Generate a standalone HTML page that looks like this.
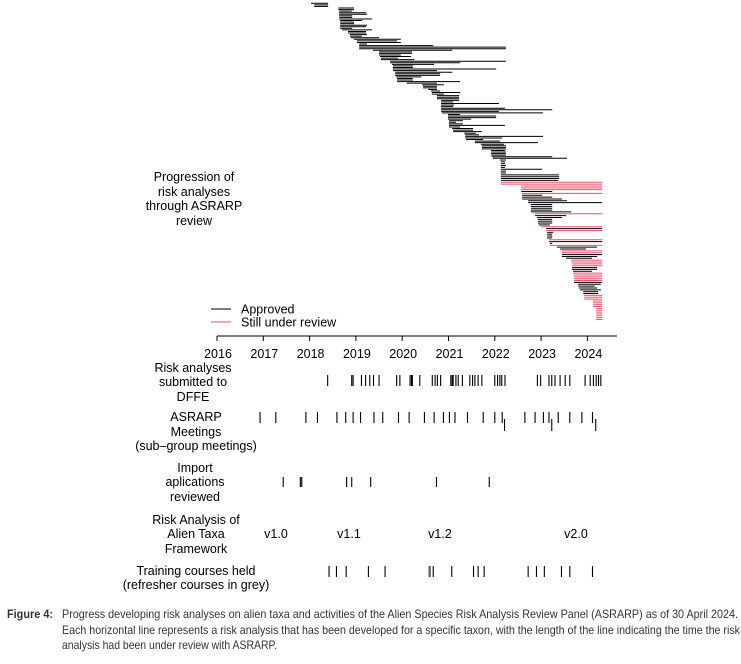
<!DOCTYPE html>
<html><head><meta charset="utf-8"><style>
html,body{margin:0;padding:0;background:#fff;}
svg{display:block;font-family:"Liberation Sans",Arial,sans-serif;}
</style></head><body>
<svg id="chart" width="741" height="664" viewBox="0 0 741 664" xmlns="http://www.w3.org/2000/svg">
<g id="rows"></g>
<g id="axis"></g>
<g id="events"></g>
<g font-size="12.5" fill="#000" text-anchor="middle">
<text x="194" y="181">Progression of</text>
<text x="194" y="196">risk analyses</text>
<text x="194" y="210">through ASRARP</text>
<text x="194" y="225">review</text>
<text x="193" y="372">Risk analyses</text>
<text x="193" y="386">submitted to</text>
<text x="193" y="401">DFFE</text>
<text x="196" y="421">ASRARP</text>
<text x="196" y="436">Meetings</text>
<text x="196" y="450">(sub–group meetings)</text>
<text x="195" y="472">Import</text>
<text x="195" y="486">aplications</text>
<text x="195" y="501">reviewed</text>
<text x="196" y="524">Risk Analysis of</text>
<text x="196" y="538">Alien Taxa</text>
<text x="196" y="553">Framework</text>
<text x="196" y="575">Training courses held</text>
<text x="196" y="589">(refresher courses in grey)</text>
<text x="276" y="538">v1.0</text>
<text x="349" y="538">v1.1</text>
<text x="440" y="538">v1.2</text>
<text x="576" y="538">v2.0</text>
</g>
<g font-size="12.5">
<line x1="211" y1="309" x2="231" y2="309" stroke="#000" stroke-width="1"/>
<text x="241" y="313.5">Approved</text>
<line x1="211" y1="322" x2="231" y2="322" stroke="#ef4f6a" stroke-width="1"/>
<text x="241" y="326.5">Still under review</text>
</g>
<g font-size="12" fill="#333">
<text x="7" y="618" font-weight="bold" textLength="46" lengthAdjust="spacingAndGlyphs">Figure 4:</text>
<text x="62" y="618" textLength="676" lengthAdjust="spacingAndGlyphs">Progress developing risk analyses on alien taxa and activities of the Alien Species Risk Analysis Review Panel (ASRARP) as of 30 April 2024.</text>
<text x="62" y="634" textLength="678" lengthAdjust="spacingAndGlyphs">Each horizontal line represents a risk analysis that has been developed for a specific taxon, with the length of the line indicating the time the risk</text>
<text x="62" y="649" textLength="215" lengthAdjust="spacingAndGlyphs">analysis had been under review with ASRARP.</text>
</g>
</svg>
<script>
const starts=[2018.03,2018.10,2018.10,2018.62,2018.62,2018.64,2018.64,2018.64,2018.64,2018.64,2018.64,2018.66,2018.66,2018.66,2018.66,2018.66,2018.66,2018.70,2018.83,2018.83,2018.87,2018.87,2018.89,2018.96,2019.02,2019.02,2019.07,2019.07,2019.07,2019.07,2019.37,2019.50,2019.50,2019.50,2019.52,2019.54,2019.54,2019.74,2019.74,2019.78,2019.80,2019.80,2019.80,2019.80,2019.85,2019.85,2019.85,2019.87,2019.89,2019.89,2019.89,2020.10,2020.43,2020.45,2020.45,2020.56,2020.62,2020.64,2020.64,2020.75,2020.75,2020.75,2020.84,2020.84,2020.84,2020.84,2020.84,2020.84,2020.84,2020.84,2020.86,2020.99,2020.99,2020.99,2020.99,2021.01,2021.01,2021.01,2021.01,2021.01,2021.08,2021.10,2021.10,2021.34,2021.36,2021.36,2021.36,2021.38,2021.57,2021.57,2021.70,2021.72,2021.72,2021.72,2021.92,2021.92,2021.92,2021.92,2021.94,2021.96,2022.11,2022.13,2022.13,2022.13,2022.13,2022.13,2022.13,2022.13,2022.13,2022.13,2022.13,2022.13,2022.13,2022.13,2022.57,2022.57,2022.57,2022.57,2022.59,2022.59,2022.59,2022.59,2022.72,2022.72,2022.78,2022.78,2022.78,2022.78,2022.78,2022.87,2022.87,2022.91,2022.93,2022.93,2022.93,2022.95,2023.00,2023.11,2023.11,2023.13,2023.13,2023.13,2023.13,2023.17,2023.17,2023.19,2023.19,2023.34,2023.41,2023.45,2023.45,2023.45,2023.45,2023.54,2023.65,2023.65,2023.67,2023.67,2023.67,2023.67,2023.69,2023.69,2023.71,2023.71,2023.71,2023.71,2023.71,2023.80,2023.80,2023.82,2023.84,2023.91,2023.91,2023.93,2023.93,2023.93,2024.12,2024.12,2024.12,2024.12,2024.19,2024.19,2024.19,2024.19,2024.19,2024.19,2024.19];
const ends=[2018.40,2018.40,2018.40,2018.96,2018.96,2018.91,2019.22,2019.24,2018.92,2018.92,2019.35,2019.13,2018.96,2018.96,2019.24,2019.22,2018.92,2019.35,2019.22,2019.22,2019.24,2019.13,2019.50,2019.97,2019.89,2019.97,2019.24,2020.67,2022.24,2022.24,2021.08,2020.21,2020.21,2019.97,2020.19,2019.91,2020.26,2022.24,2021.25,2020.69,2020.23,2020.23,2022.03,2020.75,2021.08,2020.82,2020.82,2020.41,2020.23,2020.23,2021.25,2020.75,2020.90,2020.75,2020.75,2020.75,2020.82,2021.25,2020.90,2021.23,2021.23,2021.23,2021.23,2021.10,2022.09,2021.12,2021.10,2022.22,2023.24,2022.09,2023.04,2021.25,2022.03,2022.03,2021.49,2021.31,2021.16,2021.31,2022.22,2021.25,2021.53,2021.53,2021.72,2021.59,2021.66,2023.04,2022.16,2021.75,2022.11,2022.93,2022.20,2022.24,2022.24,2022.24,2022.22,2022.24,2022.24,2022.24,2023.24,2023.56,2022.24,2022.22,2022.22,2022.24,2022.22,2023.02,2022.24,2022.24,2023.39,2023.39,2023.39,2023.37,2024.32,2024.32,2024.32,2024.32,2024.32,2023.24,2024.32,2023.02,2023.24,2023.45,2023.56,2024.32,2023.24,2023.24,2023.24,2023.24,2023.65,2024.32,2023.54,2023.45,2023.24,2023.24,2023.24,2023.19,2024.32,2024.32,2024.32,2023.26,2023.24,2023.24,2023.24,2024.32,2024.32,2023.24,2024.32,2024.21,2023.97,2024.32,2024.32,2024.32,2024.21,2024.10,2024.32,2024.32,2024.32,2024.32,2024.21,2024.21,2024.10,2024.32,2024.32,2024.32,2024.32,2024.32,2024.32,2024.29,2024.16,2024.21,2024.29,2024.23,2024.23,2024.32,2024.32,2024.32,2024.32,2024.32,2024.32,2024.32,2024.32,2024.32,2024.32,2024.32,2024.32,2024.32,2024.32];
const underReview=[0,0,0,0,0,0,0,0,0,0,0,0,0,0,0,0,0,0,0,0,0,0,0,0,0,0,0,0,0,0,0,0,0,0,0,0,0,0,0,0,0,0,0,0,0,0,0,0,0,0,0,0,0,0,0,0,0,0,0,0,0,0,0,0,0,0,0,0,0,0,0,0,0,0,0,0,0,0,0,0,0,0,0,0,0,0,0,0,0,0,0,0,0,0,0,0,0,0,0,0,0,0,0,0,0,0,0,0,0,0,0,0,1,1,1,1,1,0,1,0,0,0,0,0,0,0,0,0,0,1,0,0,0,0,0,0,1,0,1,0,0,0,0,1,0,0,1,0,0,1,1,0,0,0,1,1,1,1,0,0,0,1,1,1,1,1,0,0,0,0,0,0,0,1,1,1,1,1,1,1,1,1,1,1,1,1,1];
const submitted=[2018.39,2018.91,2018.94,2019.12,2019.21,2019.30,2019.38,2019.50,2019.88,2019.95,2020.17,2020.20,2020.22,2020.38,2020.65,2020.71,2020.76,2020.83,2021.05,2021.08,2021.10,2021.16,2021.21,2021.30,2021.46,2021.52,2021.57,2021.64,2021.72,2022.00,2022.06,2022.11,2022.15,2022.22,2022.92,2022.99,2023.17,2023.23,2023.30,2023.41,2023.52,2023.62,2023.95,2024.06,2024.13,2024.19,2024.24,2024.29];
const meetings=[2016.93,2017.27,2017.92,2018.17,2018.59,2018.78,2018.94,2019.10,2019.39,2019.58,2019.92,2020.15,2020.48,2020.69,2020.89,2021.02,2021.14,2021.41,2021.75,2022.00,2022.16,2022.65,2022.87,2023.05,2023.17,2023.37,2023.62,2023.88,2024.11];
const subgroupMeetings=[2022.21,2023.23,2024.18];
const imports=[2017.43,2017.80,2017.83,2018.80,2018.91,2019.32,2020.74,2021.88];
const training=[2018.42,2018.58,2018.79,2019.27,2019.63,2020.60,2020.67,2021.07,2021.54,2021.64,2021.77,2022.72,2022.90,2023.07,2023.44,2023.62,2024.11];
const refresher=[2020.57];
const yearTicks=[2016,2017,2018,2019,2020,2021,2022,2023,2024];

const NS="http://www.w3.org/2000/svg";
function xs(y){return 217+(y-2016)*46.3;}
function rowY(i){return i<100 ? 3.3+i*(158.3-3.3)/99 : 160+(i-100)*(319.5-160)/(starts.length-101);}
function ln(parent,x1,y1,x2,y2,color,w){const l=document.createElementNS(NS,'line');l.setAttribute('x1',x1);l.setAttribute('y1',y1);l.setAttribute('x2',x2);l.setAttribute('y2',y2);l.setAttribute('stroke',color);l.setAttribute('stroke-width',w);parent.appendChild(l);return l;}
const rows=document.getElementById('rows');
for(let i=0;i<starts.length;i++){
  const l=ln(rows,xs(starts[i]),rowY(i),xs(ends[i]),rowY(i),underReview[i]?'#ef4f6a':'#000',1);
  
  
}
const ax=document.getElementById('axis');
const axl=ln(ax,xs(2016),336,617,336,'#000',1);


yearTicks.forEach(y=>{
  const t=ln(ax,xs(y),336,xs(y),341,'#000',1);
  
  
  const tx=document.createElementNS(NS,'text');
  tx.setAttribute('x',xs(y)+1);tx.setAttribute('y',358);tx.setAttribute('text-anchor','middle');tx.setAttribute('font-size','12.5');
  tx.textContent=y;
  
  
  ax.appendChild(tx);
});
const ev=document.getElementById('events');
function ticks(arr,y1,y2,color,name){arr.forEach(v=>{const t=ln(ev,xs(v),y1,xs(v),y2,color,1.1);
  
  });}
ticks(submitted,375,386,'#000','submission-tick');
ticks(meetings,412,423,'#000','meeting-tick');
ticks(subgroupMeetings,419,431,'#000','subgroup-meeting-tick');
ticks(imports,477,487,'#000','import-review-tick');
ticks(training,566,577,'#000','training-course-tick');
ticks(refresher,566,577,'#aaa','refresher-course-tick');
</script>
</body></html>
